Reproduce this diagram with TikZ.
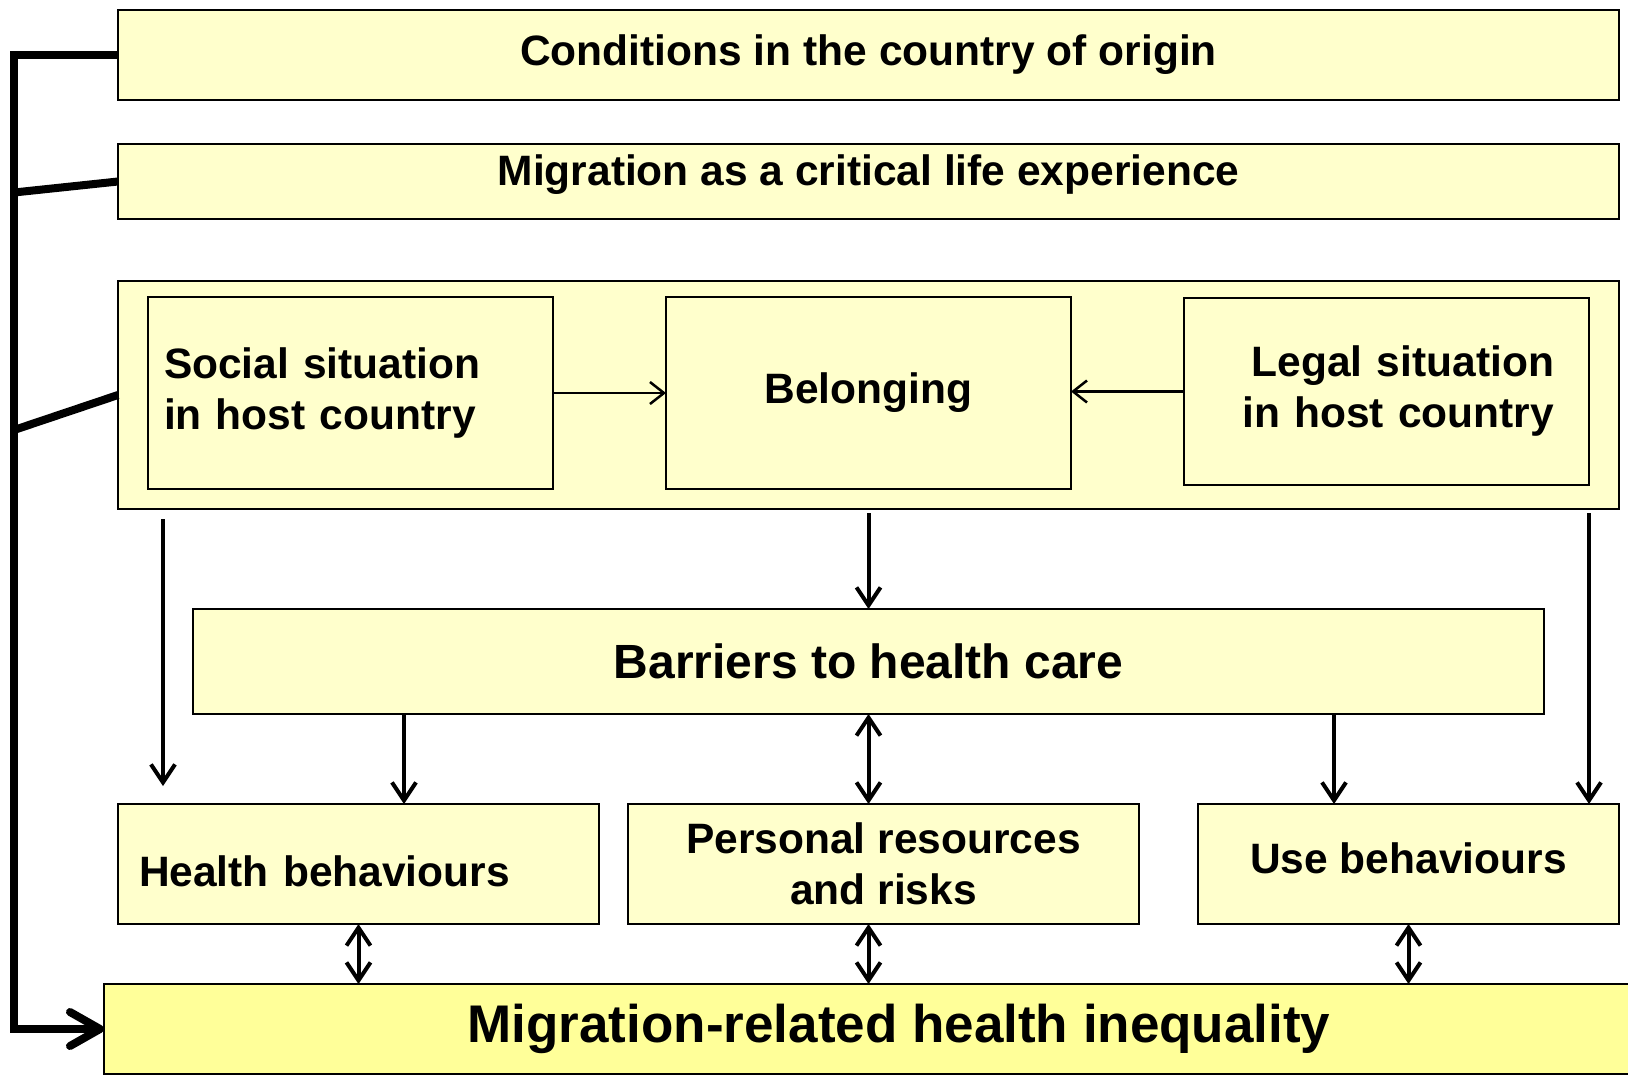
\documentclass[tikz,border=0pt]{standalone}
\usepackage{fontspec}
\setmainfont{Liberation Sans}
\definecolor{paleyellow}{RGB}{255,255,204}
\definecolor{brightyellow}{RGB}{255,255,153}
\usetikzlibrary{arrows.meta, positioning, calc}

\tikzset{
  factor/.style={draw, line width=2.5pt, fill=paleyellow, inner sep=0pt, outer sep=0pt, align=center, font=\bfseries\fontsize{42.5}{51}\selectfont},
  thinarrow/.style={line width=2.5pt, -{Straight Barb[length=14pt, width=22pt]}},
  downarrow/.style={line width=4pt, -{Straight Barb[length=18pt, width=24pt]}},
  twoway/.style={line width=4pt, {Straight Barb[length=18pt, width=24pt]}-{Straight Barb[length=18pt, width=24pt]}},
  bracket/.style={line width=8pt, -{Straight Barb[length=30pt, width=34pt, round]}}
}

\begin{document}
\begin{tikzpicture}[x=1pt, y=-1pt]
  \useasboundingbox (0,0) rectangle (1628,1074);

  % conditions before and during migration
  \node[factor, minimum width=1501pt, minimum height=90pt] (origin) at (868.5,55) {Conditions in the country of origin};
  \node[factor, minimum width=1501pt, minimum height=75pt, text height=31pt, text depth=24pt] (migration) at (868.5,181.5) {Migration as a critical life experience};

  % situation in the host country
  \node[factor, minimum width=1501pt, minimum height=228pt] (host) at (868.5,395) {};
  \node[factor, minimum width=405pt, minimum height=192pt, text width=373pt, align=left] (social) at (350.5,393) {Social situation\\in host country};
  \node[factor, minimum width=405pt, minimum height=192pt] (belonging) at (868.5,393) {Belonging};
  \node[factor, minimum width=405pt, minimum height=187pt, text width=335pt, align=right] (legal) at (1386.5,391.5) {Legal situation\\in host country};

  \node[factor, minimum width=1351pt, minimum height=105pt, font=\bfseries\fontsize{48}{58}\selectfont] (barriers) at (868.5,661.5) {Barriers to health care};

  % mediating factors
  \node[factor, minimum width=481pt, minimum height=120pt, text width=439pt, align=left, text height=53pt, text depth=9pt] (health) at (358.5,864) {Health behaviours};
  \node[factor, minimum width=511pt, minimum height=120pt] (personal) at (883.5,864) {Personal resources\\and risks};
  \node[factor, minimum width=421pt, minimum height=120pt, text height=27pt, text depth=9pt] (use) at (1408.5,864) {Use behaviours};

  \node[factor, fill=brightyellow, minimum width=1590pt, minimum height=90pt, font=\bfseries\fontsize{53}{64}\selectfont] (inequality) at (899,1029) {Migration-related health inequality};

  \draw[thinarrow] (social.east) -- (belonging.west);
  \draw[thinarrow] (legal.west) -- (legal.west -| belonging.east);

  \coordinate (socialdrop) at (163,519);
  \coordinate (socialend) at (163,786);
  \coordinate (toleft) at (404,0);
  \coordinate (toright) at (1334,0);
  \draw[downarrow] ([yshift=-4pt]host.south) -- (barriers.north);
  \draw[downarrow] (socialdrop) -- (socialend);
  \draw[downarrow] ([yshift=-4pt]legal.south east |- host.south) -- (legal.south east |- use.north);
  \draw[downarrow] (barriers.south -| toleft) -- (health.north -| toleft);
  \draw[twoway] (barriers.south) -- (barriers.south |- personal.north);
  \draw[downarrow] (barriers.south -| toright) -- (use.north -| toright);

  \draw[twoway] (health.south) -- (health.south |- inequality.north);
  \draw[twoway] (personal.south -| barriers.south) -- (inequality.north -| barriers.south);
  \draw[twoway] (use.south) -- (use.south |- inequality.north);

  % feedback line on the left
  \coordinate (spine) at (14,0);
  \draw[bracket] (origin.west) -- (origin.west -| spine) |- (inequality.west);
  \draw[line width=8pt] (migration.west) -- ++(-104,11);
  \draw[line width=8pt] (host.west) -- ++(-104,35);
\end{tikzpicture}
\end{document}
